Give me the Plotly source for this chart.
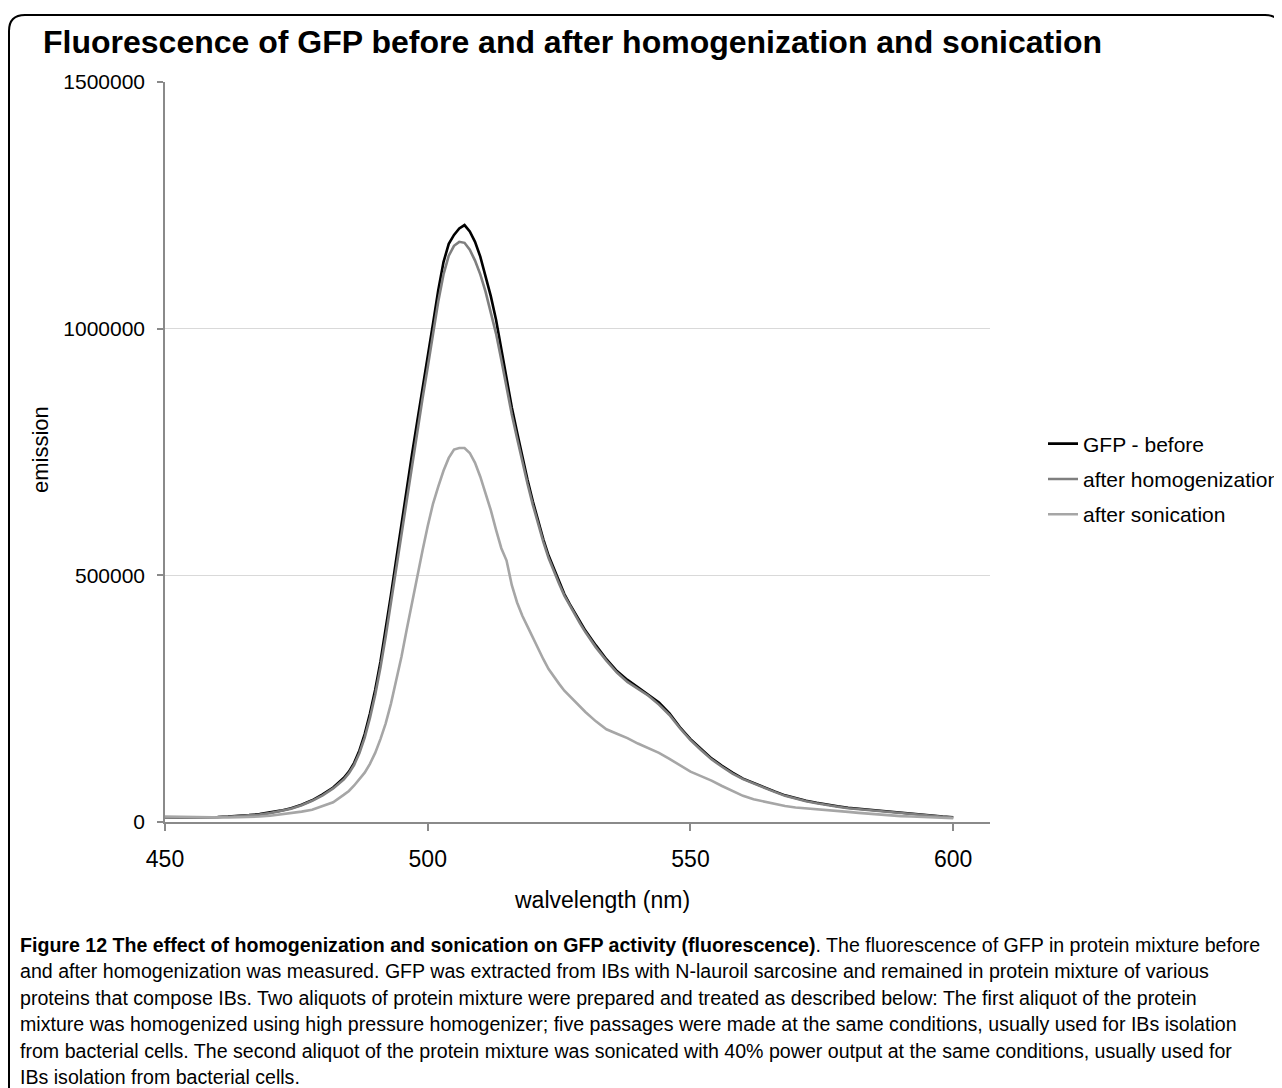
import plotly.graph_objects as go

# ---------------- data ----------------
wavelength = [450, 452, 454, 456, 458, 460, 462, 464, 466, 468, 470, 472, 474, 476, 478, 480, 482, 484,
              485, 486, 487, 488, 489, 490, 491, 492, 493, 494, 495, 496, 497, 498, 499, 500,
              501, 502, 503, 504, 505, 506, 507, 508, 509, 510, 511, 512, 513, 514, 515, 516,
              517, 518, 519, 520, 521, 522, 523, 524, 525, 526, 527, 528, 529, 530,
              532, 534, 536, 538, 540, 542, 544, 546, 548, 550, 552, 554, 556, 558, 560, 562,
              564, 566, 568, 570, 572, 574, 576, 578, 580, 582, 584, 586, 588, 590, 592, 594,
              596, 598, 600]

gfp_before = [9000, 9000, 9000, 9000, 9500, 10000, 11000, 12000, 14000, 16000, 19000, 23000, 28000, 35000, 44000, 56000, 70000, 89000,
              102000, 120000, 145000, 178000, 220000, 268000, 325000, 390000, 460000, 532000, 605000, 676000, 745000, 812000, 875000, 940000,
              1010000, 1078000, 1135000, 1172000, 1190000, 1203000, 1210000, 1197000, 1176000, 1146000, 1108000, 1066000, 1018000, 960000, 895000, 840000,
              790000, 740000, 693000, 650000, 610000, 573000, 540000, 513000, 487000, 462000, 442000, 423000, 405000, 388000,
              358000, 330000, 306000, 288000, 273000, 258000, 242000, 220000, 192000, 168000, 148000, 129000, 114000, 100000, 88000, 79000,
              70000, 62000, 54000, 48000, 43000, 39000, 35000, 32000, 29000, 27000, 24000, 22000, 20000, 18000, 16000, 14000,
              12500, 11000, 9500]

after_homogenization = [8500, 8500, 8500, 8500, 9000, 9500, 10500, 11500, 13000, 15000, 18000, 22000, 27000, 34000, 43000, 54000, 68000, 86000,
                        99000, 116000, 140000, 171000, 211000, 258000, 313000, 376000, 445000, 516000, 588000, 658000, 727000, 795000, 858000, 922000,
                        990000, 1055000, 1110000, 1148000, 1168000, 1176000, 1174000, 1160000, 1138000, 1110000, 1075000, 1035000, 990000, 937000, 878000, 826000,
                        778000, 730000, 685000, 643000, 604000, 568000, 535000, 508000, 483000, 459000, 439000, 420000, 402000, 385000,
                        354000, 327000, 303000, 284000, 270000, 256000, 238000, 217000, 190000, 166000, 146000, 127000, 112000, 98000, 87000, 78000,
                        69000, 61000, 53000, 47000, 42000, 38000, 34000, 31000, 28000, 26000, 23000, 21000, 19000, 17000, 15000, 13500,
                        12000, 10500, 9000]

after_sonication = [11000, 10500, 10000, 9500, 9000, 9000, 9000, 9500, 10000, 11000, 12500, 15000, 18000, 21000, 25000, 32000, 40000, 55000,
                    63000, 74000, 86000, 100000, 118000, 140000, 168000, 200000, 240000, 285000, 335000, 390000, 445000, 500000, 550000, 600000,
                    645000, 680000, 712000, 738000, 755000, 758000, 758000, 748000, 728000, 700000, 668000, 632000, 592000, 555000, 530000, 480000,
                    445000, 418000, 396000, 374000, 350000, 330000, 310000, 294000, 280000, 266000, 255000, 245000, 234000, 223000,
                    204000, 188000, 179000, 170000, 159000, 150000, 140000, 128000, 115000, 102000, 93000, 84000, 73000, 63000, 53000, 46000,
                    41000, 37000, 32500, 29500, 28000, 26000, 24000, 22000, 20500, 18500, 16500, 15000, 13500, 12000, 11000, 10000,
                    9000, 8000, 7500]

series_names = ["GFP - before", "after homogenization", "after sonication"]
series_colors = ["#000000", "#7f7f7f", "#a6a6a6"]

y_ticks = [0, 500000, 1000000, 1500000]
x_ticks = [450, 500, 550, 600]

title_text = "Fluorescence of GFP before and after homogenization and sonication"
x_title = "walvelength (nm)"
y_title = "emission"

caption_bold = "Figure 12 The effect of homogenization and sonication on GFP activity (fluorescence)"
caption_lines = [
    ". The fluorescence of GFP in protein mixture before",
    "and after homogenization was measured. GFP was extracted from IBs with N-lauroil sarcosine and remained in protein mixture of various",
    "proteins that compose IBs. Two aliquots of protein mixture were prepared and treated as described below: The first aliquot of the protein",
    "mixture was homogenized using high pressure homogenizer; five passages were made at the same conditions, usually used for IBs isolation",
    "from bacterial cells. The second aliquot of the protein mixture was sonicated with 40% power output at the same conditions, usually used for",
    "IBs isolation from bacterial cells.",
]

# ---------------- layout geometry ----------------
# the page body has an 8px margin, so figure pixels = screen pixels - 8
OFF = 8
W, H = 1282 - OFF, 1088 - OFF


def fx(x):  # screen x -> figure x
    return x - OFF


def fy(y):
    return y - OFF


PL, PR, PT, PB = fx(165), fx(990), fy(82), fy(822)
pw, ph = PR - PL, PB - PT


def px(x_screen):
    return (fx(x_screen) - PL) / pw


def py(y_screen):
    return (PB - fy(y_screen)) / ph


ARIAL = "Liberation Sans, Arial, Helvetica, sans-serif"

fig = go.Figure()
for name, vals, col in zip(series_names, [gfp_before, after_homogenization, after_sonication], series_colors):
    fig.add_trace(go.Scatter(x=wavelength, y=vals, mode="lines", name=name, legendgroup=name,
                             line=dict(color=col, width=2.6)))

fig.update_layout(
    width=W, height=H, autosize=False,
    margin=dict(l=PL, r=W - PR, t=PT, b=H - PB, autoexpand=False),
    paper_bgcolor="white", plot_bgcolor="white",
    font=dict(family=ARIAL, color="black"),
    title=dict(text=title_text, x=fx(43) / W, xanchor="left", y=1 - fy(42) / H, yanchor="middle",
               font=dict(family=ARIAL, size=32, color="black", weight="bold")),
    showlegend=True,
    legend=dict(x=px(1043), xanchor="left", y=py(479), yanchor="middle",
                font=dict(family=ARIAL, size=21, color="black"), traceorder="grouped",
                bgcolor="rgba(0,0,0,0)", borderwidth=0, tracegroupgap=5),
)

fig.update_xaxes(range=[450, 607], tickvals=x_ticks, ticktext=[str(v) for v in x_ticks],
                 showgrid=False, zeroline=False, showline=True, linecolor="#8a8a8a", linewidth=1.5,
                 ticks="outside", ticklen=7, tickcolor="#8a8a8a", tickwidth=1.5,
                 tickfont=dict(family=ARIAL, size=23, color="black"), ticklabelstandoff=9)
fig.update_yaxes(range=[0, 1500000], tickvals=y_ticks, ticktext=[str(v) for v in y_ticks],
                 showgrid=True, gridcolor="#d9d9d9", gridwidth=1, zeroline=False,
                 showline=True, linecolor="#8a8a8a", linewidth=1.5,
                 ticks="outside", ticklen=6, tickcolor="#8a8a8a", tickwidth=1.5,
                 tickfont=dict(family=ARIAL, size=21, color="black"), ticklabelstandoff=8)

annotations = [
    dict(text=x_title, x=px(602), y=py(900), xref="paper", yref="paper", showarrow=False,
         xanchor="center", yanchor="middle", font=dict(family=ARIAL, size=23, color="black")),
    dict(text=y_title, x=px(40), y=py(450), xref="paper", yref="paper", showarrow=False,
         textangle=-90, xanchor="center", yanchor="middle", font=dict(family=ARIAL, size=22, color="black")),
]
cap_y = [945, 971, 998, 1024, 1051, 1077]
first = ("<b><span style='font-size:19.6px'>" + caption_bold + "</span></b>" + caption_lines[0])
texts = [first] + caption_lines[1:]
for line, yy in zip(texts, cap_y):
    annotations.append(dict(text=line, x=px(18), y=py(yy), xref="paper", yref="paper", showarrow=False,
                            xanchor="left", yanchor="middle", align="left",
                            font=dict(family=ARIAL, size=19.6, color="black")))
fig.update_layout(annotations=annotations)

# rounded frame around the whole figure
x0, x1 = px(9), px(1281)
y0, yb = py(15), py(1100)
rx, ry = 16 / pw, 16 / ph
frame = (f"M {x0},{yb} L {x0},{y0 - ry} Q {x0},{y0} {x0 + rx},{y0} "
         f"L {x1 - rx},{y0} Q {x1},{y0} {x1},{y0 - ry} L {x1},{yb}")
fig.add_shape(type="path", path=frame, xref="paper", yref="paper",
              line=dict(color="black", width=2), layer="above")

fig.write_html("out.html")
